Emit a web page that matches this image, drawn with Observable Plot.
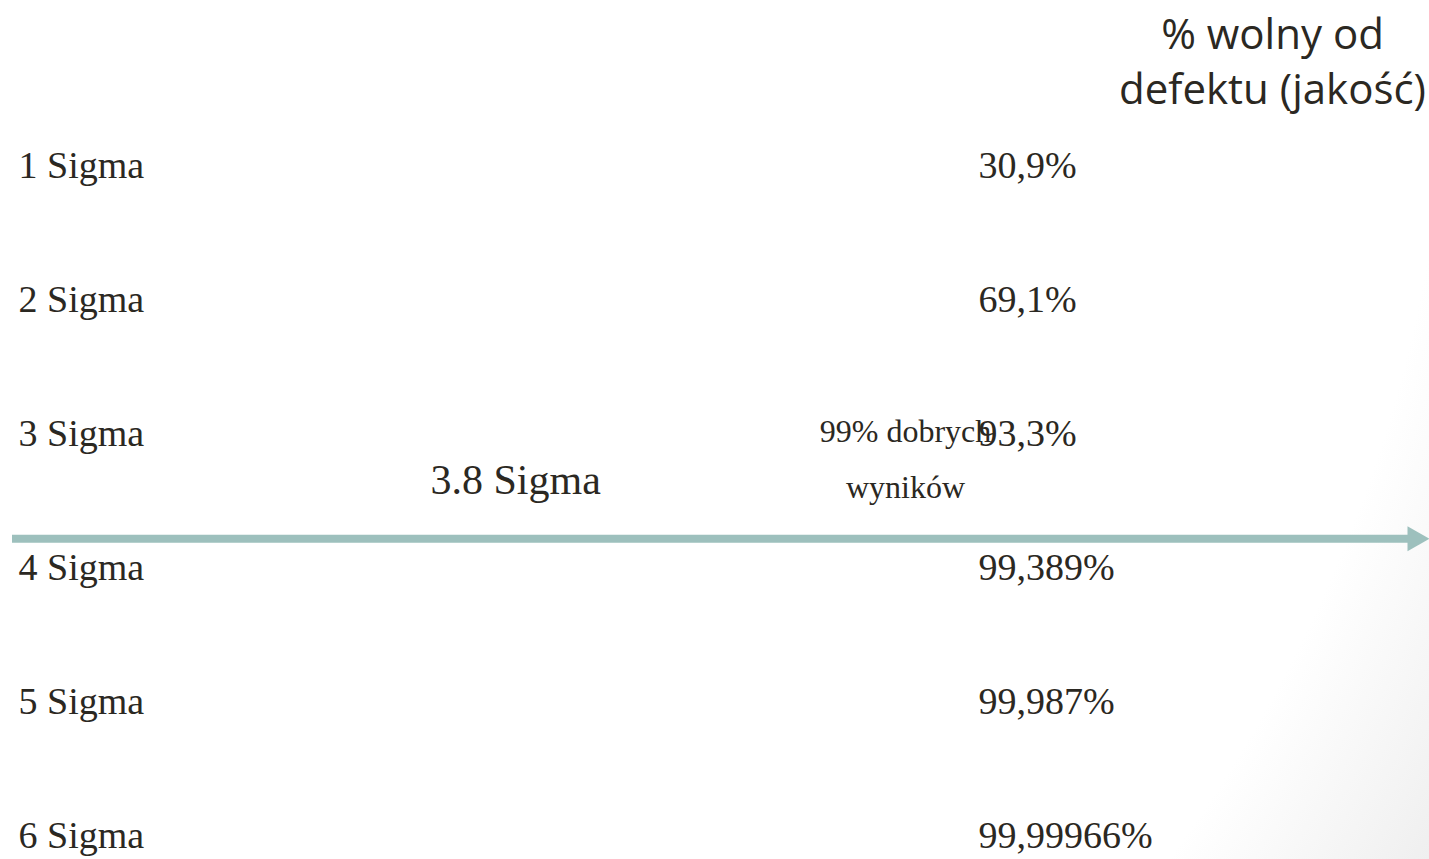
<!DOCTYPE html>
<html>
<head>
<meta charset="utf-8">
<script src="https://cdn.jsdelivr.net/npm/d3@7"></script>
<script src="https://cdn.jsdelivr.net/npm/@observablehq/plot@0.6"></script>
<style>
  html, body { margin: 0; padding: 0; }
  body {
    width: 1429px; height: 859px; overflow: hidden;
    background: radial-gradient(circle farthest-corner at 0% 0%, #ffffff 87%, #efefef 100%);
  }
  svg { background: transparent !important; display: block; }
</style>
</head>
<body>
<div id="chart"></div>
<script>
// ---- data ----
const sigmaLevels = [1, 2, 3, 4, 5, 6];
const sigmaLabels = ["1 Sigma", "2 Sigma", "3 Sigma", "4 Sigma", "5 Sigma", "6 Sigma"];
const qualityLabels = ["30,9%", "69,1%", "93,3%", "99,389%", "99,987%", "99,99966%"];
const columnHeader = "% wolny od\ndefektu (jakość)";
const thresholdSigma = 3.8;
const thresholdLabel = "3.8 Sigma";
const thresholdNote = "99% dobrych\nwyników";

// ---- layout (styling only) ----
const W = 1429, H = 859;
const ink = "#2b2822";
const arrowColor = "#9dc0bd";
const serif = "Liberation Serif, Times New Roman, serif";
const sans = "Open Sans, Lato, sans-serif";
const col = {label: 18, value: 978, note: 905, threshold: 430, header: 1272, arrowStart: 12, arrowEnd: 1412, head: 1418};

const rows = sigmaLevels.map((s, i) => ({sigma: s, label: sigmaLabels[i], value: qualityLabels[i]}));

const rightTriangle = {
  draw(ctx) {
    ctx.moveTo(-11, -12.5);
    ctx.lineTo(11, 0);
    ctx.lineTo(-11, 12.5);
    ctx.closePath();
  }
};

const chart = Plot.plot({
  width: W,
  height: H,
  margin: 0,
  style: {background: "transparent", color: ink},
  x: {domain: [0, W], range: [0, W], axis: null},
  y: {domain: [1, 6], range: [163, 833], axis: null},
  marks: [
    // threshold arrow
    Plot.ruleY([thresholdSigma], {x1: col.arrowStart, x2: col.arrowEnd, stroke: arrowColor, strokeWidth: 8}),
    Plot.dot([thresholdSigma], {x: col.head, y: d => d, symbol: rightTriangle, fill: arrowColor, stroke: null}),
    // row labels
    Plot.text(rows, {x: col.label, y: "sigma", text: "label", textAnchor: "start", lineAnchor: "bottom", dy: 14,
      fontFamily: serif, fontSize: 38, fill: ink}),
    // quality values
    Plot.text(rows, {x: col.value, y: "sigma", text: "value", textAnchor: "start", lineAnchor: "bottom", dy: 14,
      fontFamily: serif, fontSize: 38, fill: ink}),
    // threshold label
    Plot.text([thresholdLabel], {x: col.threshold, y: thresholdSigma, text: d => d, textAnchor: "start", lineAnchor: "bottom", dy: -45,
      fontFamily: serif, fontSize: 42, fill: ink}),
    // threshold note
    Plot.text([thresholdNote], {x: col.note, y: thresholdSigma, text: d => d, textAnchor: "middle", lineAnchor: "bottom", dy: -41,
      lineHeight: 1.75, fontFamily: serif, fontSize: 32, fill: ink}),
    // column header
    Plot.text([columnHeader], {x: col.header, frameAnchor: "top", text: d => d, textAnchor: "middle", lineAnchor: "top", dy: 10,
      lineHeight: 1.3, fontFamily: sans, fontSize: 42, fill: ink})
  ]
});
document.getElementById("chart").append(chart);
</script>
</body>
</html>
